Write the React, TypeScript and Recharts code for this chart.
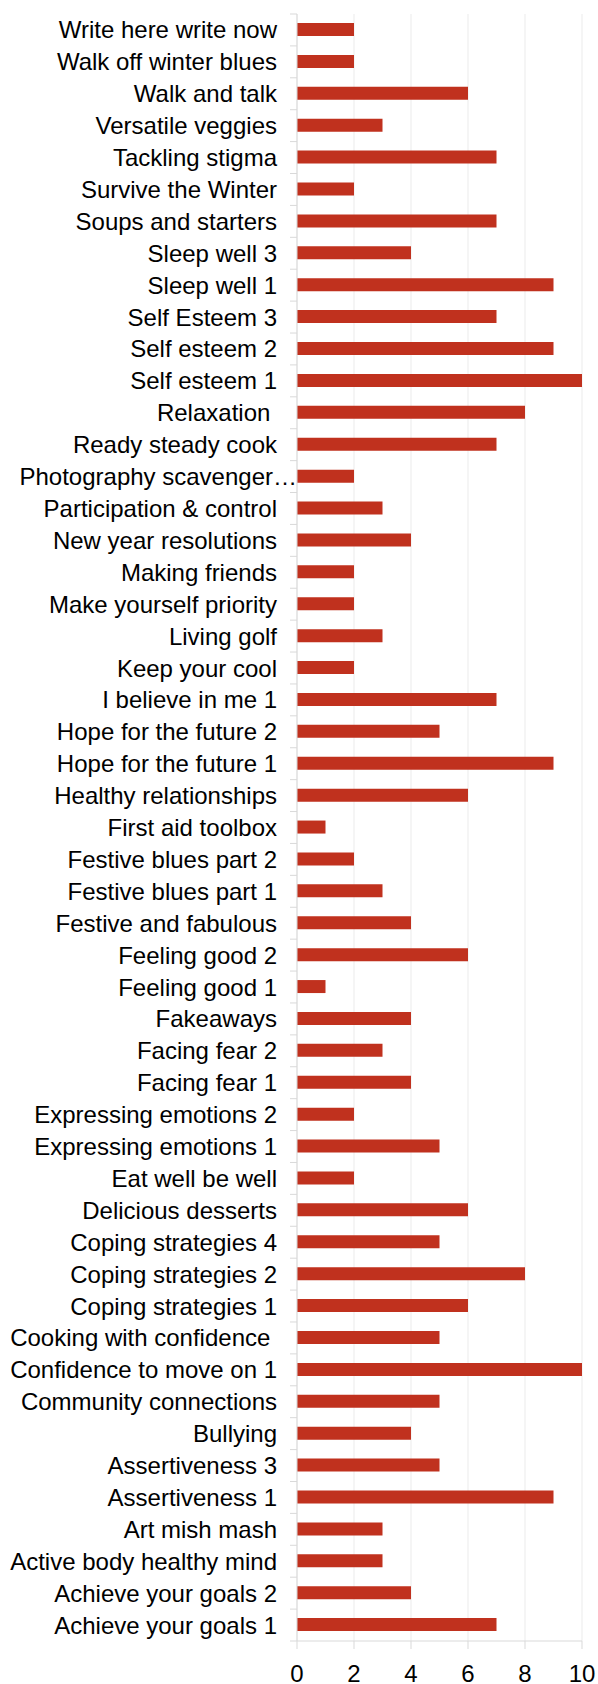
import React from 'react';
import { BarChart, Bar, XAxis, YAxis, CartesianGrid } from 'recharts';

const categories: string[] = [
  'Write here write now',
  'Walk off winter blues',
  'Walk and talk',
  'Versatile veggies',
  'Tackling stigma',
  'Survive the Winter',
  'Soups and starters',
  'Sleep well 3',
  'Sleep well 1',
  'Self Esteem 3',
  'Self esteem 2',
  'Self esteem 1',
  'Relaxation ',
  'Ready steady cook',
  'Photography scavenger…',
  'Participation & control',
  'New year resolutions',
  'Making friends',
  'Make yourself priority',
  'Living golf',
  'Keep your cool',
  'I believe in me 1',
  'Hope for the future 2',
  'Hope for the future 1',
  'Healthy relationships',
  'First aid toolbox',
  'Festive blues part 2',
  'Festive blues part 1',
  'Festive and fabulous',
  'Feeling good 2',
  'Feeling good 1',
  'Fakeaways',
  'Facing fear 2',
  'Facing fear 1',
  'Expressing emotions 2',
  'Expressing emotions 1',
  'Eat well be well',
  'Delicious desserts',
  'Coping strategies 4',
  'Coping strategies 2',
  'Coping strategies 1',
  'Cooking with confidence ',
  'Confidence to move on 1',
  'Community connections',
  'Bullying',
  'Assertiveness 3',
  'Assertiveness 1',
  'Art mish mash',
  'Active body healthy mind',
  'Achieve your goals 2',
  'Achieve your goals 1',
];

const values: number[] = [
  2, 2, 6, 3, 7, 2, 7, 4, 9, 7, 9, 10, 8, 7, 2, 3, 4, 2, 2, 3, 2, 7, 5, 9, 6,
  1, 2, 3, 4, 6, 1, 4, 3, 4, 2, 5, 2, 6, 5, 8, 6, 5, 10, 5, 4, 5, 9, 3, 3, 4, 7,
];

const xTicks: number[] = [0, 2, 4, 6, 8, 10];

const data = categories.map((name, i) => ({ name, value: values[i] }));

const FONT = '"Liberation Sans", Arial, sans-serif';
const AXIS_GRAY = '#D9D9D9';

const YTick = (props: any) => {
  const { x, y, payload, index } = props;
  const label: string = payload.value;
  const off: number = payload.offset ?? 0;
  const dx = label.endsWith('…') ? 20 : 0;
  const lx2 = x + 20;
  const lx1 = x + 13;
  return (
    <g>
      <line x1={lx1} x2={lx2} y1={y - off} y2={y - off} stroke={AXIS_GRAY} />
      {index === categories.length - 1 && (
        <line x1={lx1} x2={lx2} y1={y + off} y2={y + off} stroke={AXIS_GRAY} />
      )}
      <text
        x={x + dx}
        y={y}
        dy="0.355em"
        textAnchor="end"
        fontSize={24}
        fontFamily={FONT}
        fill="#000"
        style={{ whiteSpace: 'pre' }}
      >
        {label}
      </text>
    </g>
  );
};

export default function App() {
  return (
    <div style={{ position: 'absolute', left: 0, top: 0, background: '#fff' }}>
      <BarChart
        width={598}
        height={1684}
        data={data}
        layout="vertical"
        margin={{ top: 14, right: 16, bottom: 0, left: 0 }}
      >
        <CartesianGrid horizontal={false} stroke="#EBEBEB" />
        <XAxis
          type="number"
          domain={[0, 10]}
          ticks={xTicks}
          interval={0}
          axisLine={{ stroke: AXIS_GRAY }}
          tickLine={{ stroke: AXIS_GRAY }}
          tickSize={8}
          tickMargin={16}
          height={43}
          tick={{ fontSize: 24, fill: '#000', fontFamily: FONT }}
        />
        <YAxis
          type="category"
          dataKey="name"
          width={297}
          interval={0}
          axisLine={{ stroke: AXIS_GRAY }}
          tickLine={false}
          tickSize={7}
          tickMargin={13}
          tick={<YTick />}
        />
        <Bar dataKey="value" fill="#C0311E" barSize={13} isAnimationActive={false} />
      </BarChart>
    </div>
  );
}
